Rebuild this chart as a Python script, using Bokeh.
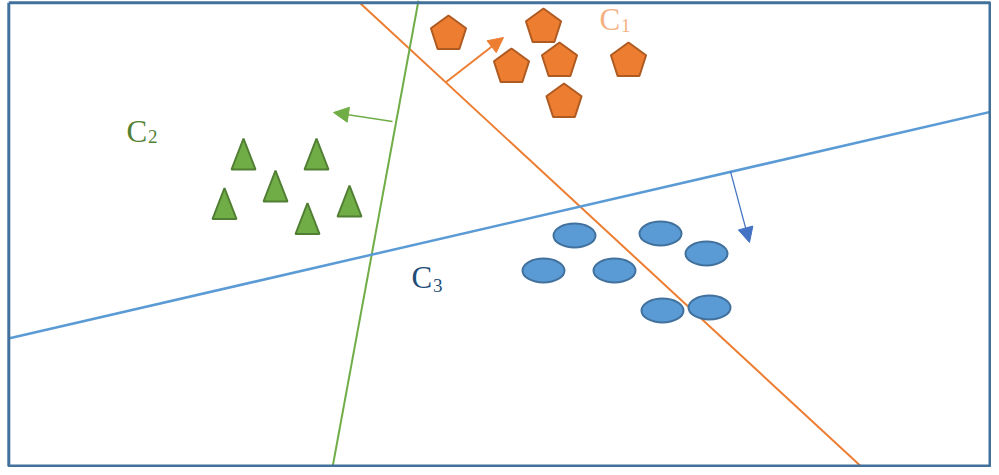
import numpy as np
from bokeh.plotting import figure
from bokeh.models import Range1d, Arrow, NormalHead
from bokeh.core.properties import value
from bokeh.embed import file_html
from bokeh.resources import INLINE

# ---- data (diagram coordinates, y grows downward) ----
pent_x = [448, 543, 511, 559, 628, 563.5]
pent_y = [33.5, 26.5, 66.5, 60.5, 60.5, 101.5]

tri_x = [243, 316, 275, 224, 307, 349]
tri_y = [153.5, 153.5, 185.5, 203, 218, 200.5]

ell_x = [574, 660, 706, 543, 614, 662, 709]
ell_y = [235, 233, 253, 270, 270, 310, 307]

orange_line_x = [360, 865]
orange_line_y = [3, 470]
green_line_x = [418, 332]
green_line_y = [0, 467]
blue_line_x = [8, 996]
blue_line_y = [338, 110]

orange_arrow = [445, 82, 503, 37]
green_arrow = [392, 121, 333, 112]
blue_arrow = [730, 171, 749, 242]

label_main = ["C", "C", "C"]
label_sub = ["1", "2", "3"]
label_x = [599, 126, 411]
label_y = [18.5, 130.5, 277]
label_sub_y = [24.5, 135.5, 284.5]
label_colors = ["#F4B183", "#548235", "#1F4E79"]

frame_x = [8.3, 989.5, 989.5, 8.3, 8.3]
frame_y = [2.2, 2.2, 465.5, 465.5, 2.2]

# ---- figure ----
p = figure(width=991, height=467, output_backend="svg", toolbar_location=None,
           x_range=Range1d(0, 991), y_range=Range1d(467, 0), min_border=0)
p.axis.visible = False
p.grid.visible = False
p.outline_line_color = None
p.background_fill_color = "white"
p.border_fill_color = "white"

# lines
p.line(orange_line_x, orange_line_y, line_color="#ED7D31", line_width=2)
p.line(green_line_x, green_line_y, line_color="#70AD47", line_width=2)
p.line(blue_line_x, blue_line_y, line_color="#5B9BD5", line_width=2.5)

# pentagons
R = 18.5
ang = np.radians(np.arange(5) * 72)
pxs = [list(cx + R * np.sin(ang)) for cx in pent_x]
pys = [list(cy - R * np.cos(ang)) for cy in pent_y]
p.patches(pxs, pys, fill_color="#ED7D31", line_color="#AE5A21", line_width=2)

# triangles
TW, TH = 24, 31
txs = [[cx, cx + TW / 2, cx - TW / 2] for cx in tri_x]
tys = [[cy - TH / 2, cy + TH / 2, cy + TH / 2] for cy in tri_y]
p.patches(txs, tys, fill_color="#70AD47", line_color="#507E32", line_width=2)

# ellipses
p.ellipse(ell_x, ell_y, width=42, height=24, fill_color="#5B9BD5",
          line_color="#41719C", line_width=2)

# arrows
for (x0, y0, x1, y1), col, lw in [(orange_arrow, "#ED7D31", 2),
                                  (green_arrow, "#70AD47", 1.5),
                                  (blue_arrow, "#4472C4", 1.2)]:
    p.add_layout(Arrow(end=NormalHead(size=15, fill_color=col, line_color=col),
                       x_start=x0, y_start=y0, x_end=x1, y_end=y1,
                       line_color=col, line_width=lw))

# labels
p.text(label_x, label_y, text=label_main, text_color=label_colors,
       text_font=value("Liberation Serif"), text_font_size="31px",
       text_baseline="middle", text_align="left")
p.text([x + 21.5 for x in label_x], label_sub_y, text=label_sub, text_color=label_colors,
       text_font=value("Liberation Serif"), text_font_size="19px",
       text_baseline="middle", text_align="left")

# frame
p.line(frame_x, frame_y, line_color="#41719C", line_width=3)

open("out.html", "w").write(file_html(p, INLINE))
